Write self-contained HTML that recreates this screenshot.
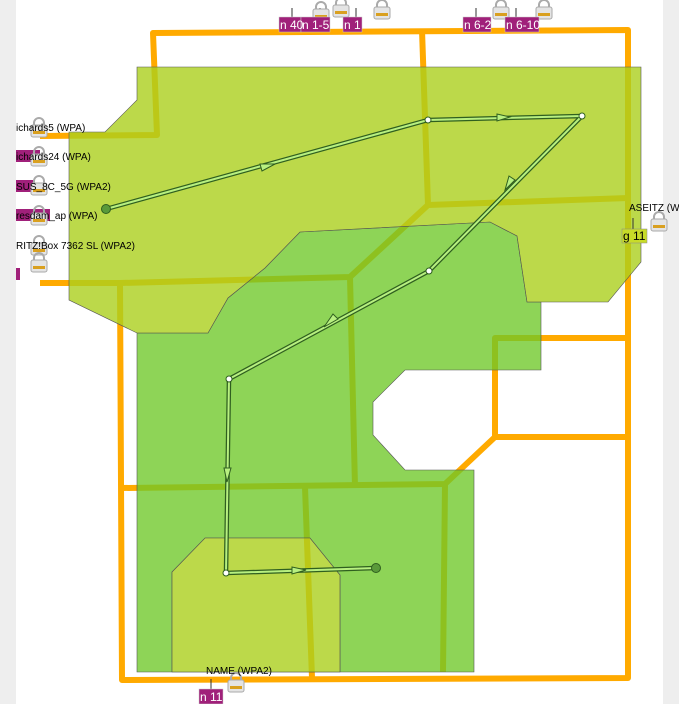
<!DOCTYPE html>
<html><head><meta charset="utf-8"><style>
html,body{margin:0;padding:0;width:679px;height:704px;overflow:hidden;background:#fff;font-family:"Liberation Sans",sans-serif}
</style></head><body>
<svg width="679" height="704" viewBox="0 0 679 704" xmlns="http://www.w3.org/2000/svg" font-family="Liberation Sans, sans-serif">
<defs>
<g id="lk">
<path d="M3,8 V5 a5,5 0 0 1 10,0 V8" fill="none" stroke="#aaa" stroke-width="2"/>
<rect x="0" y="7" width="16" height="12" rx="2" fill="#e4e4e4" stroke="#aaa" stroke-width="1"/>
<rect x="2" y="13" width="12" height="3" fill="#d9a020"/>
</g>
</defs>
<rect x="0" y="0" width="16" height="704" fill="#eeeeee"/>
<rect x="663" y="0" width="16" height="704" fill="#eeeeee"/>
<g stroke="#ffaa00" stroke-width="6" fill="none" stroke-linejoin="round">
<polyline points="40,136 157,135 153,33 628,30 628,678 122,680 120,283"/>
<polyline points="40,283 120,283 350,277 428,205 628,198"/>
<polyline points="422,30 428,205"/>
<polyline points="350,277 355,487"/>
<polyline points="122,488 445,484 495,437 628,437"/>
<polyline points="495,437 495,338 628,338"/>
<polyline points="445,484 443,672"/>
<polyline points="305,487 312,678"/>
</g>
<path d="M137,333 L208,333 L228,298 L265,268 L300,232 L490,222 L517,236 L527,302 L541,302 L541,370 L405,370 L373,402 L373,435 L405,470 L474,470 L474,672 L137,672 Z M205,538 L310,538 L340,575 L340,672 L172,672 L172,572 Z" fill="rgb(110,200,40)" fill-opacity="0.78" fill-rule="evenodd" stroke="#555" stroke-width="0.6"/>
<path d="M205,538 L310,538 L340,575 L340,672 L172,672 L172,572 Z" fill="rgb(171,207,29)" fill-opacity="0.8" stroke="#555" stroke-width="0.6"/>
<path d="M137,67 L641,67 L641,262 L608,302 L527,302 L517,236 L490,222 L300,232 L265,268 L228,298 L208,333 L137,333 L69,300 L69,132 L105,132 L137,100 Z" fill="rgb(171,207,29)" fill-opacity="0.8" stroke="#555" stroke-width="0.6"/>
<g fill="none">
<polyline points="106,209 428,120 582,116 429,271 229,379 226,573 376,568" stroke="#2f5f1f" stroke-width="4.5" stroke-linejoin="round"/>
<polyline points="106,209 428,120 582,116 429,271 229,379 226,573 376,568" stroke="#b8f080" stroke-width="2" stroke-linejoin="round"/>
</g>
<g fill="#b8f080" stroke="#2f5f1f" stroke-width="1">
<polygon points="275,164 260,164 262,171"/>
<polygon points="510,117 497,114 497,121"/>
<polygon points="505,190 515,180 509,176"/>
<polygon points="324,327 338,319 333,314"/>
<polygon points="227,482 224,468 231,468"/>
<polygon points="306,570 292,567 292,574"/>
</g>
<g fill="#fff" stroke="#2f5f1f" stroke-width="1">
<circle cx="428" cy="120" r="3"/><circle cx="582" cy="116" r="3"/><circle cx="429" cy="271" r="3"/><circle cx="229" cy="379" r="3"/><circle cx="226" cy="573" r="3"/>
</g>
<g fill="#5a9a3a" stroke="#2f5f1f" stroke-width="1">
<circle cx="106" cy="209" r="4.5"/><circle cx="376" cy="568" r="4.5"/>
</g>
<g fill="#a0207a"><rect x="16" y="150" width="24" height="12"/><rect x="16" y="180" width="18" height="12"/><rect x="16" y="209" width="34" height="12"/><rect x="16" y="268" width="4" height="12"/></g>
<g stroke="#333" stroke-width="1">
<line x1="292" y1="8" x2="292" y2="17"/><line x1="320" y1="8" x2="320" y2="17"/><line x1="356" y1="8" x2="356" y2="17"/><line x1="476" y1="8" x2="476" y2="17"/><line x1="516" y1="8" x2="516" y2="17"/><line x1="633" y1="218" x2="633" y2="229"/><line x1="211" y1="679" x2="211" y2="689"/>
</g>
<use href="#lk" x="31" y="118"/><use href="#lk" x="31" y="147"/><use href="#lk" x="31" y="176"/><use href="#lk" x="31" y="206"/><use href="#lk" x="31" y="236"/><use href="#lk" x="31" y="253"/>
<use href="#lk" x="313" y="2"/><use href="#lk" x="333" y="-2"/><use href="#lk" x="374" y="0"/><use href="#lk" x="493" y="0"/><use href="#lk" x="536" y="0"/>
<use href="#lk" x="651" y="212"/><use href="#lk" x="228" y="673"/>
<g font-size="10" fill="#000">
<text x="16" y="131">ichards5 (WPA)</text>
<text x="16" y="160">ichards24 (WPA)</text>
<text x="16" y="190">SUS_8C_5G (WPA2)</text>
<text x="16" y="219">resdam_ap (WPA)</text>
<text x="16" y="249">RITZ!Box 7362 SL (WPA2)</text>
<text x="629" y="211">ASEITZ (W</text>
<text x="206" y="674">NAME (WPA2)</text>
</g>
<g fill="#a0207a" stroke="#ccc" stroke-width="0.5">
<rect x="279" y="17" width="22" height="15"/><rect x="301" y="17" width="29" height="15"/><rect x="343" y="17" width="19" height="15"/><rect x="463" y="17" width="28" height="15"/><rect x="505" y="17" width="34" height="15"/><rect x="199" y="689" width="24" height="15"/>
</g>
<rect x="622" y="229" width="25" height="14" fill="#c8dc28" stroke="#888" stroke-width="0.5"/>
<g font-size="12" fill="#fff">
<text x="280" y="29">n 40</text><text x="302" y="29">n 1-5</text><text x="344" y="29">n 1</text><text x="464" y="29">n 6-2</text><text x="506" y="29">n 6-10</text><text x="200" y="701">n 11</text>
</g>
<text x="623" y="240" font-size="12" fill="#000">g 11</text>
</svg>
</body></html>
